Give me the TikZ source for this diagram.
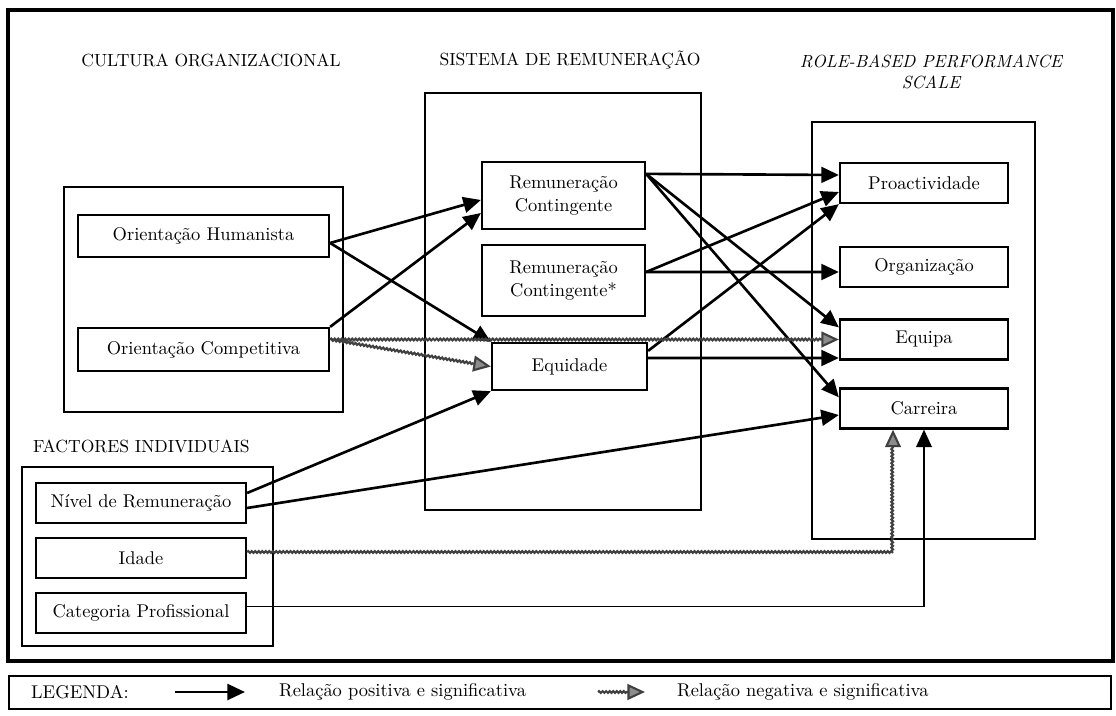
\documentclass[tikz,border=0pt]{standalone}
\usepackage{fontspec}
\usetikzlibrary{arrows.meta,positioning,decorations.pathmorphing}

\begin{document}
\begin{tikzpicture}[x=0.02cm, y=-0.02cm, node distance=1.1cm, on grid,
	font=\fontsize{10.5}{13}\selectfont,
	caixa/.style={draw, line width=1.3pt, minimum width=3.36cm, minimum height=0.8cm, inner sep=1pt},
	grupo/.style={draw, line width=1pt},
	titulo/.style={font=\fontsize{10}{12}\selectfont},
	relpos/.style={line width=1.5pt, -{Triangle[length=10pt,width=9pt]}},
	relneg/.style={draw=black!75, line width=1.2pt, -{Triangle[length=10pt,width=9pt,fill=black!45]},
		decorate, decoration={snake, amplitude=0.5pt, segment length=2pt, post length=10pt}}]
	\useasboundingbox (0,0) rectangle (1116,716);
	% frames
	\draw[line width=1.8pt] (8,10) rectangle (1113,661);
	\draw[line width=1.2pt] (9,676) rectangle (1111,709);
	\draw[grupo] (64,187) rectangle (343,412);
	\draw[grupo] (425,93) rectangle (701,510);
	\draw[grupo] (812,122) rectangle (1035,539);
	\draw[grupo] (22,467) rectangle (273,646);
	% titles
	\node[titulo] (t_cult) at (211,60) {CULTURA ORGANIZACIONAL};
	\node[titulo] (t_sist) at (570,60) {SISTEMA DE REMUNERAÇÃO};
	\node[titulo, font=\fontsize{10}{12}\selectfont\itshape, align=center] (t_role) at (931,72) {ROLE-BASED PERFORMANCE\\SCALE};
	\node[titulo, anchor=west] (t_fact) at (27,446) {FACTORES INDIVIDUAIS};
	% boxes
	\node[caixa, minimum width=5.02cm, minimum height=0.84cm] (o_hum) at (203.5,236) {Orientação Humanista};
	\node[caixa, minimum width=5.02cm, minimum height=0.86cm, below=2.27cm of o_hum] (o_comp) {Orientação Competitiva};
	\node[caixa, align=center, minimum width=3.26cm, minimum height=1.34cm] (r_cont) at (563.5,195.5) {Remuneração\\Contingente};
	\node[caixa, align=center, minimum width=3.26cm, minimum height=1.42cm] (r_conts) at (563.5,280.5) {Remuneração\\Contingente*};
	\node[caixa, minimum width=3.1cm, minimum height=0.94cm] (r_equi) at (569.5,366.5) {Equidade};
	\node[caixa] (p_pro) at (924,183) {Proactividade};
	\node[caixa] (p_org) at (924,267) {Organização};
	\node[caixa] (p_equ) at (924,339.5) {Equipa};
	\node[caixa] (p_car) at (924,408.5) {Carreira};
	\node[caixa, minimum width=4.2cm] (f_niv) at (141,503) {Nível de Remuneração};
	\node[caixa, minimum width=4.2cm, below=of f_niv] (f_ida) {Idade};
	\node[caixa, minimum width=4.2cm, below=of f_ida] (f_cat) {Categoria Profissional};
	% relations
	\path[relpos]
	([yshift=-0.14cm]o_hum.east) edge ([yshift=-0.09cm]r_cont.west)
	edge (r_equi.north west)
	(o_comp.north east) edge ([yshift=-0.35cm]r_cont.west)
	([yshift=-0.26cm]r_cont.north east) edge ([yshift=0.16cm]p_pro.west)
	edge ([yshift=-0.18cm]p_equ.north west)
	edge ([yshift=-0.2cm]p_car.north west)
	([yshift=0.17cm]r_conts.east) edge ([yshift=-0.18cm]p_pro.west)
	edge ([yshift=-0.1cm]p_org.west)
	([yshift=-0.18cm]r_equi.north east) edge (p_pro.south west)
	([yshift=0.17cm]r_equi.east) edge ([yshift=-0.37cm]p_equ.west)
	([yshift=0.2cm]f_niv.east) edge (r_equi.south west)
	([yshift=-0.1cm]f_niv.east) edge ([yshift=-0.13cm]p_car.west);
	\draw[relneg] (o_comp.east |- p_equ.west) -- (p_equ.west);
	\draw[relneg] (o_comp.east |- p_equ.west) -- (r_equi.west);
	\draw[relneg] ([yshift=0.12cm]f_ida.east) -| ([xshift=-0.62cm]p_car.south);
	\draw[relpos, line width=0.9pt] ([yshift=0.13cm]f_cat.east) -| (p_car.south);
	% legend
	\node[anchor=west] (l_leg) at (25,692) {LEGENDA:};
	\coordinate (l_p0) at (175,692);
	\coordinate (l_p1) at (245,692);
	\draw[relpos] (l_p0) -- (l_p1);
	\node[anchor=west] (l_pos) at (273,692) {Relação positiva e significativa};
	\coordinate (l_n0) at (598,692);
	\coordinate (l_n1) at (645,692);
	\draw[relneg] (l_n0) -- (l_n1);
	\node[anchor=west] (l_neg) at (671,692) {Relação negativa e significativa};
\end{tikzpicture}
\end{document}
